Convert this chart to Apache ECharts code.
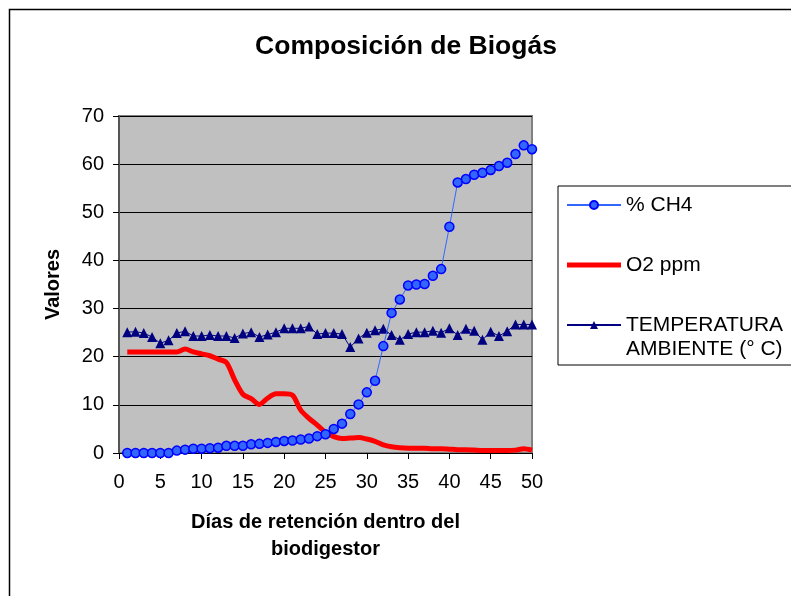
<!DOCTYPE html>
<html>
<head>
<meta charset="utf-8">
<script src="https://cdn.jsdelivr.net/npm/echarts@6/dist/echarts.min.js"></script>
<style>
  html, body { margin: 0; padding: 0; background: #fff; }
  #chart { width: 791px; height: 596px; }
</style>
</head>
<body>
<div id="chart"></div>
<script>
// dias de retencion 1..50
const days = [1, 2, 3, 4, 5, 6, 7, 8, 9, 10, 11, 12, 13, 14, 15, 16, 17, 18, 19, 20,
  21, 22, 23, 24, 25, 26, 27, 28, 29, 30, 31, 32, 33, 34, 35, 36, 37, 38, 39, 40,
  41, 42, 43, 44, 45, 46, 47, 48, 49, 50];

const ch4 = [0, 0, 0, 0, 0, 0, 0.5, 0.7, 0.9, 0.9, 1.0, 1.1, 1.5, 1.5, 1.5, 1.8, 1.9, 2.1, 2.3, 2.5,
  2.6, 2.8, 3.0, 3.5, 3.9, 5.0, 6.1, 8.1, 10.1, 12.6, 15.0, 22.2, 29.1, 31.9, 34.8, 35.0, 35.1, 36.8, 38.2, 47.0,
  56.2, 56.9, 57.8, 58.2, 58.8, 59.6, 60.3, 62.1, 63.9, 63.1];

const o2 = [21, 21, 21, 21, 21, 21, 21, 21.6, 21.0, 20.6, 20.2, 19.5, 18.8, 15.2, 12.2, 11.3, 10.1, 11.4, 12.3, 12.3,
  12.0, 8.9, 7.2, 5.8, 4.3, 3.4, 3.0, 3.1, 3.2, 2.9, 2.4, 1.7, 1.3, 1.1, 1.0, 1.0, 1.0, 0.9, 0.9, 0.8,
  0.7, 0.7, 0.6, 0.5, 0.5, 0.5, 0.5, 0.6, 0.9, 0.6];

const temp = [25.1, 25.2, 24.9, 24.1, 22.8, 23.4, 24.9, 25.3, 24.3, 24.3, 24.5, 24.3, 24.3, 23.9, 24.8, 25.1, 24.1, 24.6, 25.1, 25.9,
  25.9, 25.9, 26.3, 24.7, 24.9, 24.9, 24.7, 22.0, 23.8, 25.0, 25.5, 25.8, 24.5, 23.5, 24.7, 25.1, 25.1, 25.4, 25.0, 25.9,
  24.5, 25.8, 25.4, 23.5, 25.2, 24.3, 25.3, 26.7, 26.7, 26.7];

const seriesNames = ['% CH4', 'O2 ppm', 'TEMPERATURA\nAMBIENTE (° C)'];

const pairs = vals => days.map((d, i) => [d, vals[i]]);

const font = 'Arial, "Liberation Sans", sans-serif';
const legendText = { fontFamily: font, fontSize: 21, color: '#000', lineHeight: 24 };

const chart = echarts.init(document.getElementById('chart'));
chart.setOption({
  animation: false,
  backgroundColor: '#fff',
  textStyle: { fontFamily: font },
  title: {
    text: 'Composición de Biogás',
    left: 401,
    top: 28,
    textAlign: 'center',
    textStyle: { fontFamily: font, fontSize: 26.5, fontWeight: 'bold', color: '#000' }
  },
  graphic: [
    {
      type: 'rect',
      left: 7, top: 7,
      shape: { width: 790, height: 600 },
      style: { fill: null, stroke: '#000', lineWidth: 1.5 },
      silent: true
    }
  ],
  grid: {
    left: 119, right: 259, top: 116, bottom: 143,
    show: true,
    backgroundColor: '#C0C0C0',
    borderColor: '#808080',
    borderWidth: 2
  },
  // two legends so the icon of the two-line entry sits on its first line
  legend: [
    {
      orient: 'vertical',
      left: 558,
      top: 186,
      padding: [7, 110, 88, 8],
      itemGap: 36,
      itemWidth: 54,
      itemHeight: 10,
      borderColor: '#000',
      borderWidth: 1,
      data: [
        { name: seriesNames[0] },
        { name: seriesNames[1], icon: 'path://M0,0L108,0L108,10L0,10Z' }
      ],
      textStyle: legendText
    },
    {
      orient: 'vertical',
      left: 558,
      top: 289,
      padding: [0, 0, 0, 8],
      itemWidth: 54,
      itemHeight: 10,
      data: [seriesNames[2]],
      // blank first line pushes the label down so its first line meets the icon
      formatter: name => ' \n' + name,
      textStyle: legendText
    }
  ],
  xAxis: {
    type: 'value',
    min: 0,
    max: 50,
    interval: 5,
    name: 'Días de retención dentro del\nbiodigestor',
    nameLocation: 'middle',
    nameGap: 56,
    nameTextStyle: { fontFamily: font, fontSize: 20, fontWeight: 'bold', color: '#000', lineHeight: 27 },
    axisLine: { lineStyle: { color: '#000', width: 1 } },
    axisTick: { inside: false, length: 6, lineStyle: { color: '#000' } },
    axisLabel: { fontFamily: font, fontSize: 20, color: '#000', margin: 19 },
    splitLine: { show: false }
  },
  yAxis: {
    type: 'value',
    min: 0,
    max: 70,
    interval: 10,
    name: 'Valores',
    nameLocation: 'middle',
    nameGap: 56,
    nameTextStyle: { fontFamily: font, fontSize: 20, fontWeight: 'bold', color: '#000' },
    axisLine: { show: true, lineStyle: { color: '#555', width: 2 } },
    axisTick: { show: true, length: 6, lineStyle: { color: '#000' } },
    axisLabel: { fontFamily: font, fontSize: 20, color: '#000', margin: 15 },
    splitLine: { lineStyle: { color: '#000', width: 1 } }
  },
  series: [
    {
      name: seriesNames[0],
      type: 'line',
      data: pairs(ch4),
      symbol: 'circle',
      symbolSize: 9,
      z: 4,
      lineStyle: { color: '#3366FF', width: 1 },
      itemStyle: { color: '#3366FF', borderColor: '#0000FF', borderWidth: 1.5 }
    },
    {
      name: seriesNames[1],
      type: 'line',
      data: pairs(o2),
      showSymbol: false,
      symbol: 'none',
      smooth: 0.3,
      z: 3,
      lineStyle: { color: '#FF0000', width: 5 },
      itemStyle: { color: '#FF0000' }
    },
    {
      name: seriesNames[2],
      type: 'line',
      data: pairs(temp),
      symbol: 'triangle',
      symbolSize: 10,
      z: 2,
      lineStyle: { color: '#000080', width: 1 },
      itemStyle: { color: '#000080' }
    }
  ]
});
</script>
</body>
</html>
